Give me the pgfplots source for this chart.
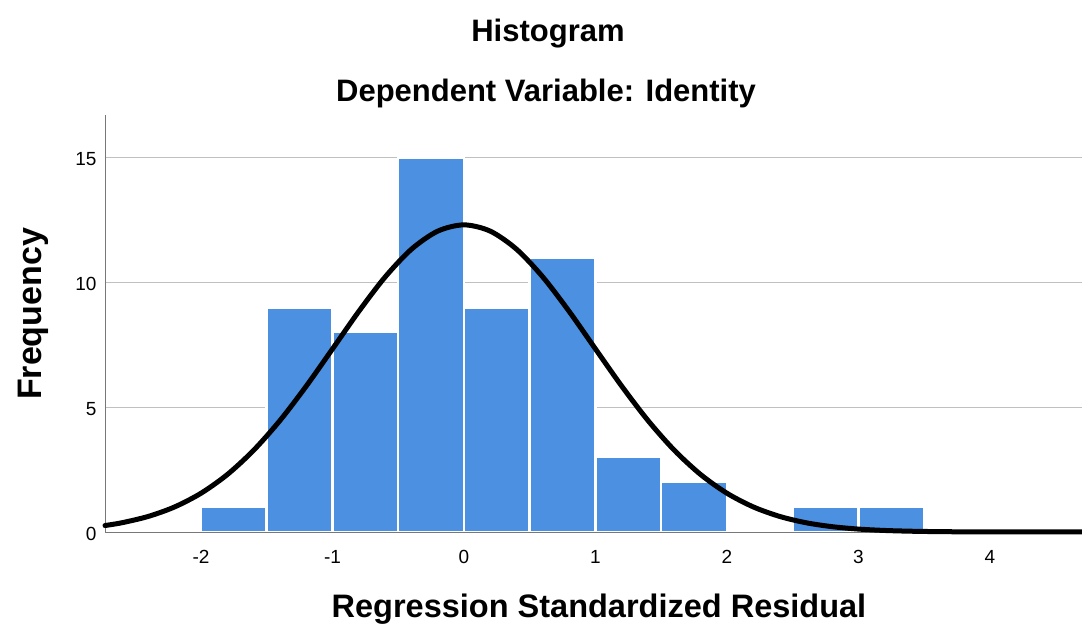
\documentclass[border=0pt]{standalone}
\usepackage{fontspec}
\setmainfont{Liberation Sans}
\usepackage{pgfplots}
\pgfplotsset{compat=1.18}
\definecolor{barblue}{RGB}{76,144,226}
\definecolor{gridgray}{RGB}{192,192,192}
\definecolor{axisgray}{RGB}{120,120,120}
\begin{document}
\begin{tikzpicture}[x=1pt,y=1pt]
\path[use as bounding box] (0,0) rectangle (1082,630);
\begin{axis}[
  at={(105pt,98pt)}, anchor=south west,
  scale only axis, width=977pt, height=417pt,
  xmin=-2.73, xmax=4.7, ymin=0, ymax=16.7,
  axis line style={draw=none},
  xtick={-2,-1,0,1,2,3,4}, ytick={0,5,10,15},
  ymajorgrids, grid style={gridgray, line width=1pt},
  major tick length=0pt,
  tick label style={font=\fontsize{19}{22}\selectfont, text=black},
  /pgf/number format/assume math mode=true,
  xticklabel style={yshift=-15pt},
  yticklabel style={xshift=-5pt, yshift=-2pt},
  clip=false,
]
\addplot[ybar interval, fill=barblue, draw=white, line width=2.5pt] coordinates {
  (-2,1) (-1.5,9) (-1,8) (-0.5,15) (0,9) (0.5,11) (1,3) (1.5,2) (2,0)
};
\addplot[ybar interval, fill=barblue, draw=white, line width=2.5pt] coordinates {
  (2.5,1) (3,1) (3.5,0)
};
\draw[axisgray, line width=1pt] (rel axis cs:0,1) -- (rel axis cs:0,0) -- (rel axis cs:1,0);
\addplot[black, line width=5pt, smooth, line cap=round] coordinates {
  (-2.73,0.260) (-2.6,0.372) (-2.4,0.625) (-2.2,1.005) (-2.0,1.552)
  (-1.8,2.300) (-1.6,3.271) (-1.4,4.461) (-1.2,5.839) (-1.0,7.331)
  (-0.8,8.833) (-0.6,10.210) (-0.4,11.323) (-0.2,12.048) (0,12.300)
  (0.2,12.048) (0.4,11.323) (0.6,10.210) (0.8,8.833) (1.0,7.331)
  (1.2,5.839) (1.4,4.461) (1.6,3.271) (1.8,2.300) (2.0,1.552)
  (2.2,1.005) (2.4,0.625) (2.6,0.372) (2.8,0.213) (3.0,0.117)
  (3.2,0.0615) (3.4,0.0311) (3.6,0.0151) (3.8,0.0070) (4.0,0.0031)
  (4.2,0.0013) (4.4,0.0005) (4.7,0.0001)
};
\end{axis}
\node[anchor=base, font=\fontsize{31}{37}\selectfont\bfseries] at (548,588) {Histogram};
\node[anchor=base, font=\fontsize{31}{37}\selectfont\bfseries] at (546,528) {Dependent Variable: Identity};
\node[anchor=base, font=\fontsize{32.5}{38}\selectfont\bfseries] at (599,13) {Regression Standardized Residual};
\node[anchor=base, rotate=90, font=\fontsize{34}{40}\selectfont\bfseries] at (42,316) {Frequency};
\end{tikzpicture}
\end{document}
